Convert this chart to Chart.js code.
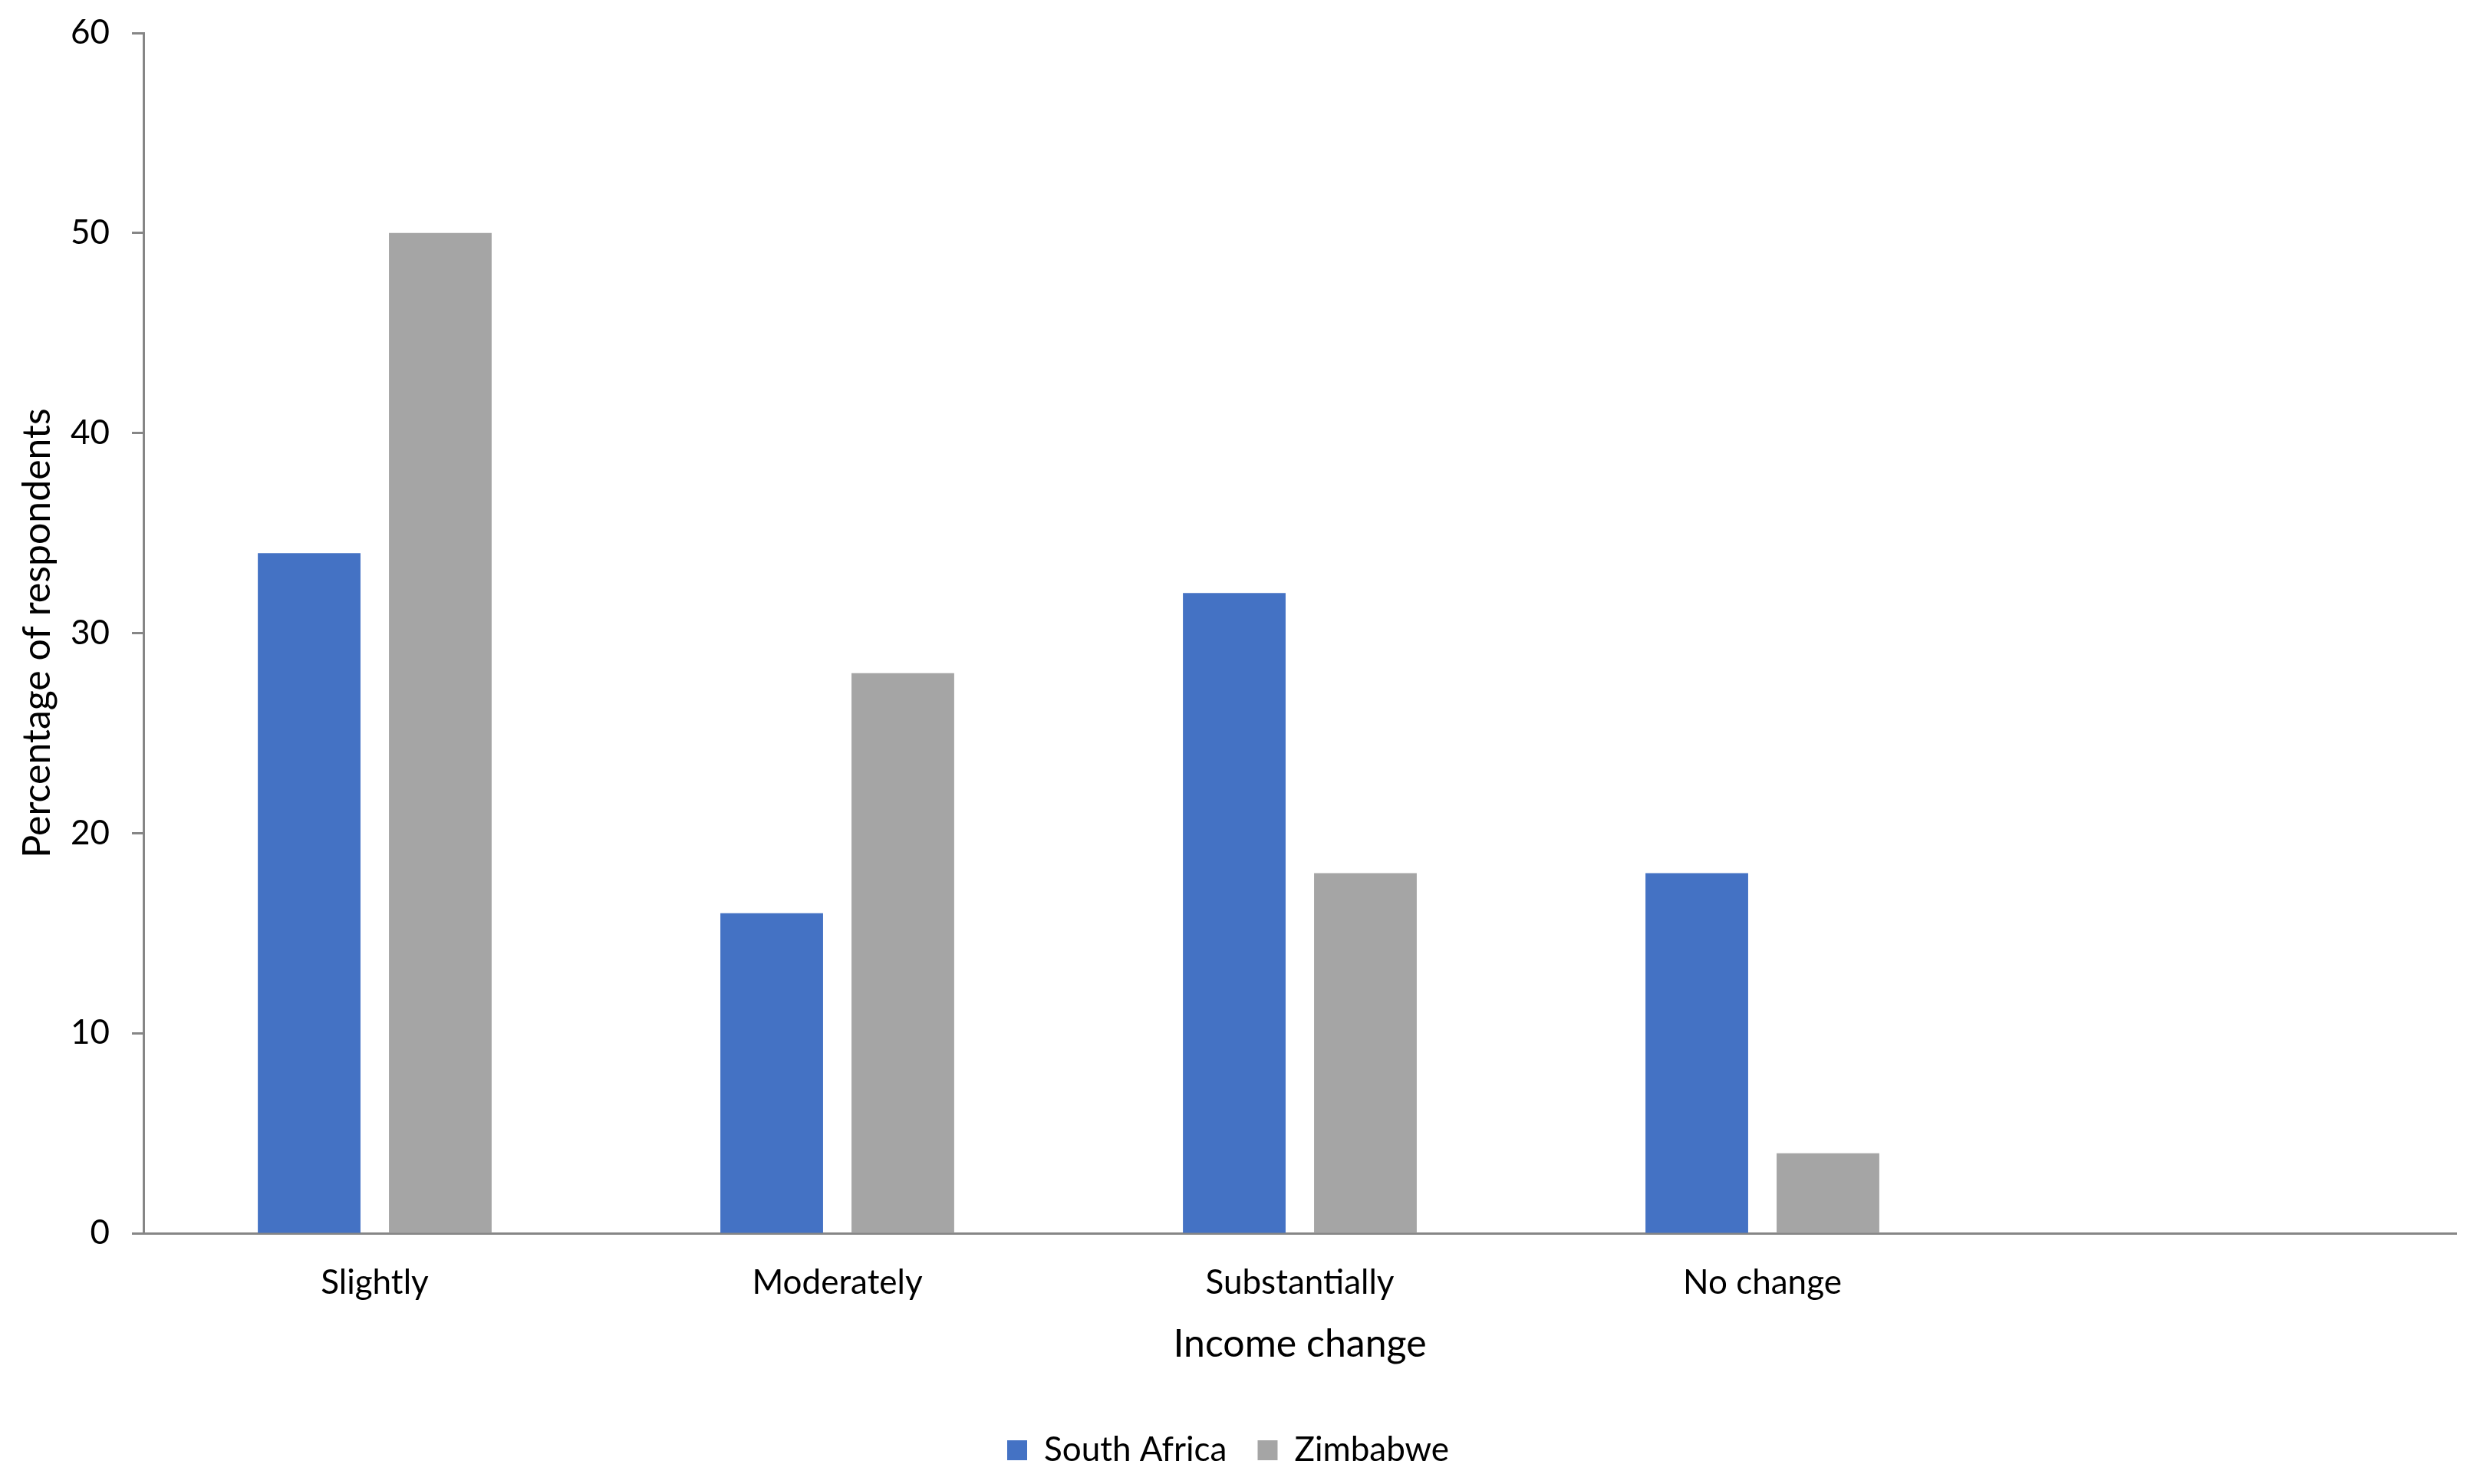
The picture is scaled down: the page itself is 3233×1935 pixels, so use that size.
<!DOCTYPE html>
<html>
<head>
<meta charset="utf-8">
<script src="https://cdn.jsdelivr.net/npm/chart.js@4/dist/chart.umd.min.js"></script>
<style>
  html, body { margin: 0; padding: 0; background: #fff; }
  #wrap { width: 3233px; height: 1935px; }
</style>
</head>
<body>
<div id="wrap"><canvas id="chart" width="3233" height="1935"></canvas></div>
<script>
const categories = ["Slightly", "Moderately", "Substantially", "No change", ""];
const southAfrica = [34, 16, 32, 18, null];
const zimbabwe = [50, 28, 18, 4, null];
const yTicks = [0, 10, 20, 30, 40, 50, 60];

const axisGrey = "#868686";
const fontFamily = "Lato, 'Open Sans', sans-serif";

const ctx = document.getElementById("chart").getContext("2d");
new Chart(ctx, {
  type: "bar",
  data: {
    labels: categories,
    datasets: [
      {
        label: "South Africa",
        data: southAfrica,
        backgroundColor: "#4472C4",
        borderWidth: 0,
      },
      {
        label: "Zimbabwe",
        data: zimbabwe,
        backgroundColor: "#A5A5A5",
        borderWidth: 0,
      },
    ],
  },
  options: {
    responsive: false,
    animation: false,
    categoryPercentage: 0.567,
    barPercentage: 0.783,
    layout: { padding: { top: 43, right: 31, left: 0, bottom: 12 } },
    plugins: {
      tooltip: { enabled: false },
      legend: {
        position: "bottom",
        labels: {
          boxWidth: 26,
          boxHeight: 26,
          padding: 40,
          color: "#000",
          font: { family: fontFamily, size: 44 },
        },
      },
    },
    scales: {
      x: {
        grid: { display: false },
        border: { display: true, color: axisGrey, width: 3 },
        ticks: {
          color: "#000",
          padding: 30,
          maxRotation: 0,
          font: { family: fontFamily, size: 44 },
        },
        title: {
          display: true,
          text: "Income change",
          color: "#000",
          font: { family: fontFamily, size: 50 },
          padding: { top: 0, bottom: 46 },
        },
        afterFit: (scale) => { scale.height = 221; },
      },
      y: {
        min: 0,
        max: 60,
        afterBuildTicks: (scale) => {
          scale.ticks = yTicks.map((v) => ({ value: v }));
        },
        grid: {
          drawOnChartArea: false,
          drawTicks: true,
          tickLength: 15,
          tickWidth: 3,
          tickColor: axisGrey,
        },
        border: { display: true, color: axisGrey, width: 3 },
        ticks: {
          color: "#000",
          padding: 29,
          font: { family: fontFamily, size: 44 },
        },
        title: {
          display: true,
          text: "Percentage of respondents",
          color: "#000",
          font: { family: fontFamily, size: 50 },
          padding: { top: 19, bottom: 0 },
        },
        afterFit: (scale) => {
          scale.width = 187;
          scale.paddingTop = 0;
          scale.paddingBottom = 0;
        },
      },
    },
  },
});
</script>
</body>
</html>
